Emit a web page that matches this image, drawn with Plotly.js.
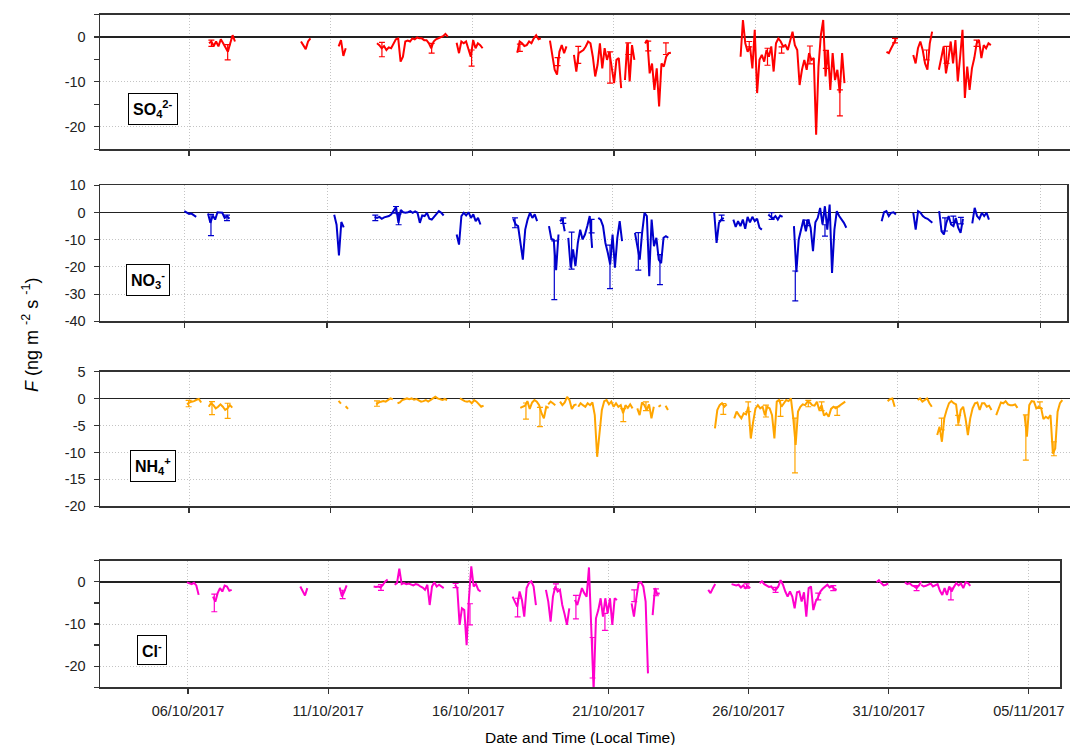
<!DOCTYPE html>
<html><head><meta charset="utf-8">
<script src="https://cdn.plot.ly/plotly-3.0.1.min.js"></script>
<style>html,body{margin:0;padding:0;background:#fff}#chart{width:1070px;height:745px}</style>
</head><body><div id="chart"></div>
<script>
// ---- data: segments of [start (day of October, fractional), values every 2 h] ----
const so4Segments = [
 [6.706, [-1.4,-1.0,-2.0,-1.0,-2.1,-0.5,-1.4,-2.5,-3.3,-1.4,0.4,-1.0]],
 [9.953, [-1.0,-2.0,-2.7,-1.0,-0.3]],
 [11.282,[-2.1,-0.7,-4.2,-2.5]],
 [12.635,[-1.4,-1.8,-2.5,-2.0,-2.9,-2.3,-2.5,-1.4,-0.5,-0.3,-5.5,-4.4,-1.0,-0.8,-1.0,-0.3,-0.5,-0.1,-0.3,-0.3,-0.7,-0.7,-1.4,-2.5,-1.0,-0.5,-0.3,-0.1,0.2,0.7,0.1]],
 [15.447,[-1.3,-3.6,-1.0,-1.4,-1.0,-2.9,-4.4,-0.7,-2.5,-1.4,-1.8,-2.5]],
 [17.588,[-3.5,-1.0,-1.4,-2.0,-1.8,-1.0,-1.4,-0.3,0.4,-0.5,-0.3]],
 [18.741,[-0.8,-4.4,-7.3,-8.4,-3.3,-1.8,-3.6,-2.1]],
 [19.588,[-4.0,-7.7,-3.6,-3.3,-2.9,-2.1,-1.0,-1.4,-4.4,-8.8,-6.2,-1.4,-7.0,-2.5,-5.1,-3.3,-7.0,-10.3,-5.1,-4.7,-11.4]],
 [21.388,[-9.6,-1.4,-9.9,-1.8,-5.1]],
 [22.094,[-1.4,-0.7,-8.1,-5.9,-11.8,-7.0,-15.5,-5.9,-6.6,-4.4,-3.6,-3.5]],
 [25.47, [-4.4,3.8,-1.4,-3.3,-2.1,-7.0,1.6,-12.5,-5.1,-4.0,-5.5,-2.9,-4.4,-2.1,-7.7,-1.4,-0.3,-1.0,-2.1,-1.8,-2.9,-0.7,1.2,-1.8,-2.9,-10.7,-7.3,-5.1,-7.3,-3.6,-5.1,-4.7,-21.8,-6.6,0.4,3.8,-8.8,-2.9,-11.8,-3.6,-9.6,-7.3,-12.5,-3.6,-10.3]],
 [30.62, [-3.3,-3.6,-2.5,-1.4,-0.5]],
 [31.565,[-4.0,-5.9,-2.5,-1.0,-2.9,-5.9,-7.3,-1.4,1.2]],
 [32.47, [-7.3,-4.4,-2.1,-8.1,-5.1,-1.0,-5.9,-0.7,-9.9,-4.4,1.6,-13.6,-6.6,-11.8,-7.0,-4.7,-1.4,-0.7,-4.7,-1.8,-2.5,-1.4,-1.8]]
];
const so4ErrDay = [7.365,6.79,12.81,14.565,15.976,17.68,19.01,19.74,20.86,21.506,22.21,22.835,25.776,26.42,26.918,27.918,28.48,28.976,30.92,32.035,32.74,33.8];
const so4ErrVal = [-3.4,-1.4,-2.8,-2.5,-4.7,-2.4,-5.5,-4.0,-6.8,-2.6,-2.0,-2.6,-1.6,-4.4,-2.9,-4.0,-5.0,-14.7,-0.8,-4.0,-4.0,-1.4];
const so4ErrSize = [1.7,0.7,1.6,1.1,1.8,0.8,0.9,1.9,3.5,1.3,1.1,1.3,0.6,1.9,0.7,2.0,2.0,2.9,0.5,1.1,1.9,0.7];

const no3Segments = [
 [6.0,   [0.5,0.1,-0.5,-0.4,-1.1,-1.6]],
 [6.83,  [-0.4,-3.8,-1.1,-2.6,0.1,-0.1,-0.1,-2.0,-1.3,-2.3]],
 [11.25, [-0.8,-4.5,-15.8,-3.5,-5.5]],
 [12.667,[-1.6,-2.0,-1.6,-2.3,-1.8,-1.6,-1.3,-0.7,0.5,2.0,-3.8,0.9,0.1,-0.1,0.1,0.5,-0.1,0.4,-0.1,-3.8,-1.1,-1.3,-0.1,-2.3,-2.6,-1.6,-0.7,0.5,-0.1,-1.1]],
 [15.539,[-8.1,-11.8,-1.3,-0.1,-1.1,0.1,-2.0,-0.7,-3.2,-2.0,-4.4]],
 [17.524,[-2.3,-4.4,-5.0,-10.5,-17.3,-6.3,-2.6,-0.1,-2.0,-0.7,-3.2]],
 [18.773,[-5.0,-9.7,-10.0,-21.2,-8.1]],
 [19.158,[-3.2,-2.3,-6.9]],
 [19.45, [-9.3,-20.3,-13.6,-19.7,-11.2,-6.3,-9.9,-8.1,-5.0,-1.3,-13.0]],
 [20.5,  [-2.0,-2.6,-5.0,-11.2,-14.8,-19.1,-8.1,-20.3,-9.3,-3.2,-10.5]],
 [21.785,[-7.5,-13.0,-17.3,-7.5,-0.1,-1.3,-23.4,-2.6,-12.4,-9.3,-17.3,-18.6,-9.3,-8.7,-9.3]],
 [24.56, [0.1,-11.2,-3.8,-2.6,-2.0]],
 [25.23, [-2.6,-5.3,-3.2,-5.0,-2.6,-6.0,-1.6,-3.6,-1.6,-3.2,-2.3,-5.6,-6.3]],
 [26.455,[-0.7,-1.6,-2.3,-1.3,-2.6,-1.1,-1.6]],
 [27.354,[-5.0,-21.9,-9.9,-5.6,-2.6,-6.9,-2.6,-5.6,-14.2,-3.6,-2.0,1.7,-4.4,2.3,-6.3,2.9,-22.2,-6.3,0.5,-1.3,-2.6,-3.8,-5.6]],
 [30.425,[-3.2,0.1,0.5,-1.3,-0.1,0.1,-0.7]],
 [31.534,[-0.1,-6.3,0.5,-0.1,-1.3,-2.0,-2.3,-3.2,-3.8]],
 [32.44, [0.5,-6.9,-8.1,-3.8,-1.3,-4.4,-5.0,-2.0,-5.6,-7.5,-2.3]],
 [33.6,  [-4.0,1.7,-1.3,-2.3,-0.1,-1.3,-0.1,-2.6]]
];
const no3ErrDay = [6.934,7.494,12.69,13.414,13.507,17.582,18.96,19.275,19.567,20.267,20.91,21.902,22.66,24.82,26.572,27.4,27.8,28.44,32.643,32.935,33.2];
const no3ErrVal = [-4.6,-2.0,-2.0,1.0,-2.5,-3.8,-21.2,-3.0,-14.0,-5.0,-20.0,-14.3,-21.0,-2.0,-1.3,-27.0,-3.8,-6.6,-4.4,-2.5,-3.0];
const no3ErrSize = [3.9,1.0,1.0,1.2,2.0,1.8,10.8,1.0,6.8,2.5,8.0,6.9,5.5,1.0,1.2,5.5,1.0,2.1,2.4,1.2,1.2];

const nh4Segments = [
 [5.93,  [-1.05,-0.7,-0.55,-0.45,-0.2,-0.05,-0.7]],
 [6.694, [-1.5,-0.85,-1.2,-1.8,-1.5,-1.05,-1.5,-2.1,-1.8,-1.2,-1.65]],
 [11.28, [-0.4,-0.9,null,-1.4,-1.9]],
 [12.61, [-1.05,-0.7,-0.55,-0.45,-0.55,-0.3,0.05,-0.1,null,-0.85,-0.7,-0.25,-0.05,0.05,-0.1,0.05,-0.2,-0.05,-0.3,-0.55,-0.45,-0.25,-0.55,-0.25,0.05,0.35,0.05,-0.1,-0.25,-0.05,-0.25]],
 [15.565,[0.05,-0.25,-0.45,-0.55,-0.45,-0.85,-0.25,-0.55,-1.05,-1.5,-1.3]],
 [17.694,[-1.7,-1.5,-1.3,-0.45,-1.9,-0.7,-0.25,-0.55,-1.2,-2.7,-3.65,-1.5,-1.7]],
 [18.68, [-1.05,-0.55,-0.85,-1.2,null,-0.55,-1.2,-0.7,0.35,-0.25,-1.9,-1.2,-1.05]],
 [19.74, [-1.5,-0.85,-1.2,-1.5,-0.85,-1.2,-0.7,-3.05,-10.8,-6.15,-2.1,-0.45,-0.25,-1.05,-0.55,-1.5,-0.85,-1.5,-1.2,-2.7,-1.2,-1.7,-1.05,-1.8,null,-1.8,-3.05,-0.7,-1.2,-2.1,-1.05,-3.65,-1.5,null,-1.5,-1.2,null,-1.3,-2.1]],
 [24.565,[-5.5,-2.1,-1.2,-0.85,-1.5,-1.05]],
 [25.247,[-3.65,-2.4,-3.05,-3.65,-2.7,-2.9,-1.5,-7.4,-4.3,-1.8,-1.2,-1.8,-1.5,-3.05,-1.5,-1.8,-3.05,-7.4,-0.55,-0.25,-1.5,-0.85,-0.25,-0.45,0.05,-3.65,-8.6,-2.4,-1.5,-1.05,-1.2,-0.55,-0.7,-1.2,-1.3,-0.55,-2.1,-1.2,-3.15,-2.7,-3.35,-1.9,-1.5,-1.8,-1.5,-1.2,-0.85,-0.55]],
 [30.66, [-0.45,-0.1,0.05,-1.5]],
 [31.72, [-0.25,0.05,-0.55,-0.25,0.05,-0.85,-1.5]],
 [32.41, [-6.75,-5.2,-8.0,-3.65,-2.1,-0.85,-0.45,-0.85,-1.05,-4.6,-2.1,-1.5,-3.65,-6.75,-3.65,-1.8,-0.85,-0.7,-2.1,-0.85,-0.85,-1.5,-1.3,-2.1,null,-3.05,-1.7,-0.7,-0.85,-0.45,-1.05,-1.2,-1.2,-1.05,-1.7,null,null,-3.05,-7.05,-1.2,-0.45,-0.55,-1.8,-1.5,-1.7,-3.8,-3.35,-3.65,-3.05,-10.2,-9.25,-2.4,-0.85,-0.25]]
];
const nh4ErrDay = [5.988,6.812,7.365,12.635,17.894,18.388,21.33,22.13,24.86,25.74,26.365,26.88,27.39,27.86,28.33,28.88,32.565,33.15,35.54,36.035,36.53];
const nh4ErrVal = [-0.9,-1.75,-2.25,-0.9,-2.3,-3.4,-3.05,-1.4,-1.9,-1.5,-2.3,-1.8,-8.7,-0.9,-1.4,-2.3,-4.7,-4.0,-7.2,-1.2,-9.3];
const nh4ErrSize = [0.6,1.2,1.4,0.5,1.5,1.8,1.2,0.8,1.0,0.9,1.1,1.5,5.1,0.6,0.8,0.8,1.1,0.9,4.2,0.6,1.3];

const clSegments = [
 [5.964, [-0.15,-0.3,-0.55,-0.25,-0.85,-3.1]],
 [6.892, [-3.5,-4.7,-2.7,-1.5,-2.3,-0.9,-1.1,-2.1,-1.9]],
 [10.007,[-1.1,-2.3,-3.25,-1.5]],
 [11.41, [-1.35,-3.5,-2.3,-0.85]],
 [12.623,[-1.1,-1.2,-1.1,-1.35,-0.7,0.1,0.55,null,null,-0.7,-0.3,3.1,-0.55,-0.3,-0.55,-0.4,-0.7,-0.85,-0.55,-0.7,-1.1,-1.35,-1.9,-0.7,-5.5,-1.1,-0.1,-1.1,-0.7,-1.1,-1.5]],
 [15.524,[-0.7,-1.5,-10.2,-6.3,-6.7,-15.0,-3.9,3.65,-1.1,-0.55,-1.9,-2.3]],
 [17.58, [-3.5,-4.7,-5.9,-2.3,-4.3,-8.25,-1.5,-0.3,0.1,-1.1,-5.5]],
 [18.77, [-1.9,-4.7,-9.45,-3.5,-1.1,-2.3,-1.9,-5.5,-7.7,-10.2,-6.3]],
 [19.805,[-4.3,-5.5,-3.5,-1.5,-2.7,-3.5,3.4,-13.4,-25.7,-8.65,-6.7,-3.9,-8.25,-3.9,-7.5,-3.9,-10.2,-3.9,-4.3]],
 [21.827,[-5.1,-8.25,-3.9,-0.3,-0.1,-1.1,-4.7,-21.7,null,-7.9,-1.5,-2.9,-2.7]],
 [24.56, [-1.9,-2.7,-1.5,-0.55]],
 [25.393,[-0.55,-0.7,-0.85,-0.7,-1.35,-0.85,-1.5,-1.0,-1.5,null,null,null,-0.3,0.1,-0.55,-0.85,-1.2,-1.1,-1.9,-1.9,-1.1,0.4,-0.7,-2.3,-3.5,-2.3,-3.5,-6.3,-2.5,-2.3,-4.7,-2.5,-8.25,-1.5,-1.1,-6.7,-4.7,-3.7,-2.3,-1.65,-1.1,-0.7,-1.35,-1.1,-1.65,-1.9]],
 [30.566,[-0.1,0.4,-0.3,-0.85,-0.7,-0.4]],
 [31.577,[-0.1,-0.55,-0.3,-0.85,-1.1,-1.5,-0.85,0.1]],
 [32.16, [-0.7,-1.1,-0.95,-0.7,-0.4,-1.1,-0.85,-0.55,-2.15,-3.1,-1.5,-3.1,-1.1,-2.3,-1.2,-0.3,-0.85,-0.4,-1.5,-0.1,-0.3,-0.95]]
];
const clErrDay = [6.939,11.517,12.885,15.548,16.06,17.76,19.127,19.84,20.435,20.875,21.92,22.695,25.93,26.963,28.485,29.02,31.993,33.218];
const clErrVal = [-5.0,-3.0,-1.35,-0.9,-7.7,-6.1,-1.1,-6.0,-18.0,-9.5,-3.3,-2.5,-1.0,-1.9,-3.5,-1.5,-1.5,-2.9];
const clErrSize = [2.1,1.0,0.7,0.5,2.5,2.2,0.6,2.8,4.8,2.0,1.4,0.8,0.5,0.6,0.8,0.6,0.6,1.4];

const xTickDates = ['2017-10-06','2017-10-11','2017-10-16','2017-10-21','2017-10-26','2017-10-31','2017-11-05'];
const xTickLabels = ['06/10/2017','11/10/2017','16/10/2017','21/10/2017','26/10/2017','31/10/2017','05/11/2017'];
const so4YTicks = [0,-10,-20];
const no3YTicks = [10,0,-10,-20,-30,-40];
const nh4YTicks = [5,0,-5,-10,-15,-20];
const clYTicks = [0,-10,-20];
const speciesLabels = ['<b>SO<sub>4</sub><sup>2-</sup></b>','<b>NO<sub>3</sub><sup>-</sup></b>','<b>NH<sub>4</sub><sup>+</sup></b>','<b>Cl<sup>-</sup></b>'];

// ---- helpers ----
const DAY = 86400000, OCT1 = Date.UTC(2017, 9, 1), STEP = 1/12;
const toMs = d => OCT1 + (d - 1) * DAY;
function buildLine(segs){
  const x = [], y = [];
  segs.forEach(([s, vals]) => {
    vals.forEach((v, i) => { x.push(toMs(s + i*STEP)); y.push(v); });
    x.push(toMs(s + vals.length*STEP)); y.push(null);
  });
  return {x, y};
}
const FONT = 'Liberation Sans, Arial, Helvetica, sans-serif';
const colors = ['#ff0000','#0000cc','#ffa500','#ff00cc'];
const segsAll = [so4Segments, no3Segments, nh4Segments, clSegments];
const errAll = [[so4ErrDay,so4ErrVal,so4ErrSize],[no3ErrDay,no3ErrVal,no3ErrSize],[nh4ErrDay,nh4ErrVal,nh4ErrSize],[clErrDay,clErrVal,clErrSize]];

const traces = [];
segsAll.forEach((segs, i) => {
  const ax = i === 0 ? '' : String(i+1);
  const L = buildLine(segs);
  traces.push({x: L.x, y: L.y, type:'scatter', mode:'lines', xaxis:'x'+ax, yaxis:'y'+ax,
    line:{color: colors[i], width: 2}, connectgaps:false, hoverinfo:'skip', showlegend:false});
  const [ed, ev, es] = errAll[i];
  traces.push({x: ed.map(toMs), y: ev, type:'scatter', mode:'markers', xaxis:'x'+ax, yaxis:'y'+ax,
    marker:{size:2, color: colors[i], opacity:0},
    error_y:{type:'data', array: es, visible:true, color: colors[i], thickness:1.2, width:3},
    hoverinfo:'skip', showlegend:false});
});

// ---- layout (pixel geometry) ----
const W = 1070, H = 745;
const px = p => p / W, py = p => 1 - p / H;
const panels = [
  {top:14.6,  bot:149.1, right:1070,   r0:2.8585, r1:37.098, yr:[-25,5],  yt:so4YTicks, mirrorY:false, minor:true,  lab:[153,109]},
  {top:185.3, bot:321.3, right:1067.3, r0:3.047,  r1:36.928, yr:[-40,10], yt:no3YTicks, mirrorY:true,  minor:false, lab:[148,280]},
  {top:371.8, bot:506.3, right:1070,   r0:2.8585, r1:37.098, yr:[-20,5],  yt:nh4YTicks, mirrorY:false, minor:false, lab:[153,466]},
  {top:560.7, bot:687.3, right:1060,   r0:2.861,  r1:37.11,  yr:[-25,5],  yt:clYTicks,  mirrorY:true,  minor:true,  lab:[152,650]}
];
const layout = {width:W, height:H, margin:{l:0,r:0,t:0,b:0}, paper_bgcolor:'#fff', plot_bgcolor:'#fff',
  showlegend:false, font:{family:FONT, color:'#222'}, annotations:[]};
panels.forEach((p, i) => {
  const n = i === 0 ? '' : String(i+1);
  layout['xaxis'+n] = {type:'date', domain:[px(100), px(p.right)], range:[toMs(p.r0), toMs(p.r1)],
    anchor:'y'+n, tickmode:'array', tickvals:xTickDates, ticktext:xTickLabels, showticklabels: i === 3,
    ticks:'outside', ticklen:5, tickwidth:1.2, tickcolor:'#333', ticklabelstandoff:5,
    showline:true, linecolor:'#333', linewidth:1.5, mirror:true,
    showgrid:true, gridcolor:'#c4c4c4', griddash:'1px,2px', gridwidth:1, zeroline:false,
    tickfont:{family:FONT, size:14.5, color:'#222'}, fixedrange:true};
  const ya = {domain:[py(p.bot), py(p.top)], range:p.yr, anchor:'x'+n,
    tickmode:'array', tickvals:p.yt, ticktext:p.yt.map(String),
    ticks:'outside', ticklen:5, tickwidth:1.2, tickcolor:'#333', ticklabelstandoff:5,
    showline:true, linecolor:'#333', linewidth:1.5, mirror:p.mirrorY,
    showgrid:true, gridcolor:'#c4c4c4', griddash:'1px,2px', gridwidth:1,
    zeroline:true, zerolinecolor:'#222', zerolinewidth:1.5,
    tickfont:{family:FONT, size:14.5, color:'#222'}, fixedrange:true};
  if (p.minor) ya.minor = {tickmode:'linear', tick0:0, dtick:5, ticks:'outside', ticklen:5, tickwidth:1.2, tickcolor:'#333', showgrid:false};
  layout['yaxis'+n] = ya;
  layout.annotations.push({xref:'paper', yref:'paper', x:px(p.lab[0]), y:py(p.lab[1]), xanchor:'center', yanchor:'middle',
    text:speciesLabels[i], showarrow:false, font:{family:FONT, size:16, color:'#000'},
    bordercolor:'#000', borderwidth:1, borderpad:4, bgcolor:'#fff'});
});
layout.annotations.push({xref:'paper', yref:'paper', x:px(30), y:py(335), xanchor:'center', yanchor:'middle', textangle:-90,
  text:'<i>F</i> (ng m <sup>-2</sup> s <sup>-1</sup>)', showarrow:false, font:{family:FONT, size:18, color:'#000'}});
layout.annotations.push({xref:'paper', yref:'paper', x:px(580), y:py(737), xanchor:'center', yanchor:'middle',
  text:'Date and Time (Local Time)', showarrow:false, font:{family:FONT, size:15.5, color:'#000'}});

Plotly.newPlot('chart', traces, layout, {staticPlot:true, displayModeBar:false});
</script></body></html>
